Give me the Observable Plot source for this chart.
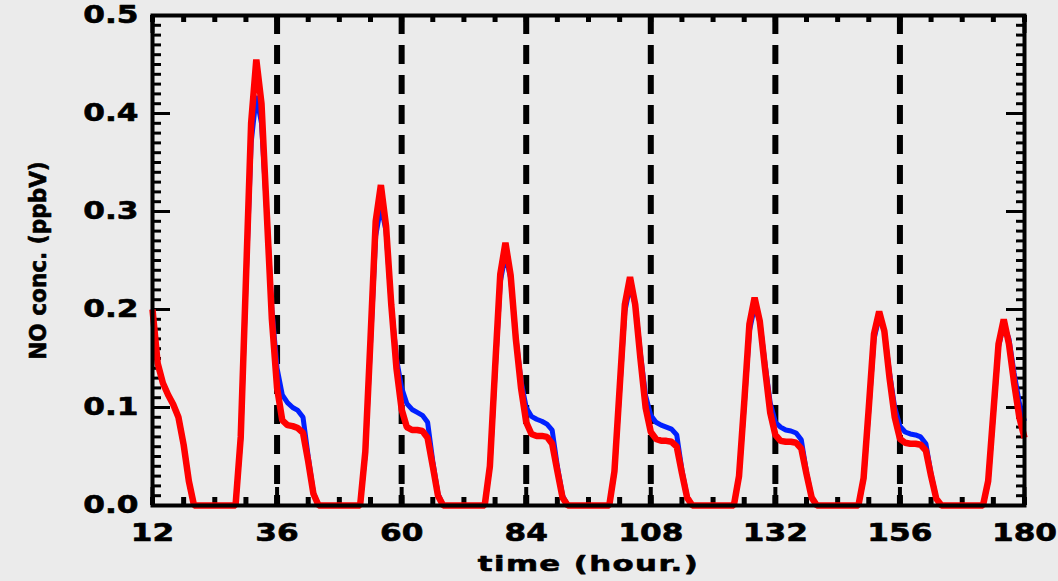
<!DOCTYPE html>
<html>
<head>
<meta charset="utf-8">
<script src="https://cdn.jsdelivr.net/npm/d3@7"></script>
<script src="https://cdn.jsdelivr.net/npm/@observablehq/plot@0.6"></script>
<style>
  html, body { margin: 0; padding: 0; background: #ebebeb; }
  #chart svg { display: block; }
</style>
</head>
<body>
<div id="chart"></div>
<script>
// hours of the simulation (hourly output)
const hours = d3.range(12, 181);

// NO concentration (ppbV), blue run
const blueNO = [
  0.200, 0.145, 0.125, 0.113, 0.103, 0.090, 0.062, 0.025, 0.000,
  0, 0, 0, 0, 0, 0, 0, 0,
  0.068, 0.225, 0.370, 0.418, 0.390, 0.300, 0.200, 0.140, 0.113, 0.105, 0.100, 0.097, 0.090, 0.050, 0.013, 0.000,
  0, 0, 0, 0, 0, 0, 0, 0,
  0.053, 0.165, 0.275, 0.305, 0.280, 0.205, 0.150, 0.120, 0.104, 0.098, 0.095, 0.092, 0.085, 0.045, 0.012, 0.000,
  0, 0, 0, 0, 0, 0, 0, 0,
  0.039, 0.135, 0.228, 0.256, 0.232, 0.172, 0.127, 0.100, 0.091, 0.088, 0.086, 0.083, 0.077, 0.040, 0.010, 0.000,
  0, 0, 0, 0, 0, 0, 0, 0,
  0.034, 0.117, 0.198, 0.224, 0.205, 0.155, 0.112, 0.092, 0.085, 0.082, 0.080, 0.078, 0.072, 0.036, 0.009, 0.000,
  0, 0, 0, 0, 0, 0, 0, 0,
  0.030, 0.102, 0.178, 0.203, 0.188, 0.145, 0.105, 0.085, 0.080, 0.077, 0.076, 0.074, 0.067, 0.034, 0.008, 0.000,
  0, 0, 0, 0, 0, 0, 0, 0,
  0.027, 0.097, 0.170, 0.192, 0.178, 0.135, 0.100, 0.081, 0.075, 0.073, 0.072, 0.070, 0.063, 0.032, 0.007, 0.000,
  0, 0, 0, 0, 0, 0, 0, 0,
  0.024, 0.093, 0.162, 0.185, 0.170, 0.135, 0.105, 0.086
];

// NO concentration (ppbV), red run
const redNO = [
  0.200, 0.145, 0.125, 0.113, 0.103, 0.090, 0.062, 0.025, 0.000,
  0, 0, 0, 0, 0, 0, 0, 0,
  0.070, 0.230, 0.390, 0.455, 0.410, 0.300, 0.190, 0.120, 0.087, 0.082, 0.081, 0.079, 0.074, 0.045, 0.012, 0.000,
  0, 0, 0, 0, 0, 0, 0, 0,
  0.055, 0.170, 0.290, 0.327, 0.285, 0.205, 0.140, 0.098, 0.080, 0.077, 0.077, 0.076, 0.069, 0.040, 0.010, 0.000,
  0, 0, 0, 0, 0, 0, 0, 0,
  0.040, 0.140, 0.236, 0.268, 0.235, 0.170, 0.120, 0.085, 0.073, 0.071, 0.071, 0.070, 0.063, 0.035, 0.008, 0.000,
  0, 0, 0, 0, 0, 0, 0, 0,
  0.035, 0.120, 0.205, 0.233, 0.205, 0.150, 0.100, 0.075, 0.068, 0.066, 0.066, 0.065, 0.060, 0.033, 0.008, 0.000,
  0, 0, 0, 0, 0, 0, 0, 0,
  0.030, 0.105, 0.185, 0.212, 0.188, 0.140, 0.095, 0.072, 0.066, 0.065, 0.065, 0.064, 0.058, 0.032, 0.008, 0.000,
  0, 0, 0, 0, 0, 0, 0, 0,
  0.028, 0.100, 0.175, 0.198, 0.178, 0.130, 0.090, 0.068, 0.064, 0.063, 0.063, 0.062, 0.056, 0.030, 0.007, 0.000,
  0, 0, 0, 0, 0, 0, 0, 0,
  0.025, 0.095, 0.165, 0.190, 0.165, 0.125, 0.090, 0.069
];

// day boundaries (dashed lines)
const dayLines = [36, 60, 84, 108, 132, 156];

// tick values and labels
const xTicks = [12, 36, 60, 84, 108, 132, 156, 180];
const xMinor = d3.range(12, 181, 6);
const yTicks = [0.0, 0.1, 0.2, 0.3, 0.4, 0.5];
const yMinor = d3.range(0, 0.5001, 0.01);
const xTitle = "time (hour.)";
const yTitle = "NO conc. (ppbV)";

const blueData = hours.map((t, i) => ({t, v: blueNO[i]}));
const redData = hours.map((t, i) => ({t, v: redNO[i]}));

const W = 1058, H = 581;
const mL = 152, mR = 34, mT = 15, mB = 76;
const iw = W - mL - mR, ih = H - mT - mB;

const font = "DejaVu Sans";
const txt = {fontWeight: "bold", fill: "black", stroke: "black", strokeWidth: 0.6, lineAnchor: "middle"};

const chart = Plot.plot({
  width: W,
  height: H,
  marginLeft: mL,
  marginRight: mR,
  marginTop: mT,
  marginBottom: mB,
  style: {background: "#ebebeb", fontFamily: font, color: "black"},
  x: {domain: [12, 180], axis: null},
  y: {domain: [0, 0.5], axis: null},
  marks: [
    // day boundaries
    Plot.ruleX(dayLines, {stroke: "black", strokeWidth: 6, strokeDasharray: "19,11"}),
    // inward ticks, left side
    Plot.ruleY(yMinor, {stroke: "black", strokeWidth: 3, insetRight: iw - 9}),
    Plot.ruleY(yTicks, {stroke: "black", strokeWidth: 3, insetRight: iw - 18}),
    // inward ticks, right side
    Plot.ruleY(yMinor, {stroke: "black", strokeWidth: 3, insetLeft: iw - 8}),
    Plot.ruleY(yTicks, {stroke: "black", strokeWidth: 3, insetLeft: iw - 18}),
    // inward ticks, bottom and top
    Plot.ruleX(xMinor, {stroke: "black", strokeWidth: 5, insetTop: ih - 8}),
    Plot.ruleX(xMinor, {stroke: "black", strokeWidth: 5, insetBottom: ih - 7}),
    Plot.ruleX(xTicks, {stroke: "black", strokeWidth: 4, insetTop: ih - 18}),
    Plot.ruleX(xTicks, {stroke: "black", strokeWidth: 4, insetBottom: ih - 18}),
    // data
    Plot.line(blueData, {x: "t", y: "v", stroke: "#0020ff", strokeWidth: 5, strokeLinejoin: "miter", strokeLinecap: "butt"}),
    Plot.line(redData, {x: "t", y: "v", stroke: "#ff0000", strokeWidth: 6.5, strokeLinejoin: "miter", strokeLinecap: "butt"}),
    Plot.frame({stroke: "black", strokeWidth: 4}),
    // tick labels
    Plot.text(xTicks, {...txt, x: d => d, frameAnchor: "bottom", dy: 28, text: d => String(d),
      fontSize: 24, textAnchor: "middle"}),
    Plot.text(yTicks, {...txt, y: d => d, frameAnchor: "left", dx: -14, text: d => d3.format(".1f")(d),
      fontSize: 24, textAnchor: "end"}),
    // axis titles
    Plot.text([xTitle], {...txt, frameAnchor: "bottom", dy: 58, text: d => d,
      fontSize: 22, textAnchor: "middle"}),
    Plot.text([yTitle], {...txt, frameAnchor: "left", dx: -114, rotate: -90, text: d => d,
      fontSize: 23, textAnchor: "middle"})
  ]
});

// widen / narrow the glyphs to mimic the lettering of the original
function stretch(sel, sx, ls) {
  chart.querySelectorAll(sel).forEach(g => {
    if (ls) g.setAttribute("letter-spacing", ls);
    g.querySelectorAll("text").forEach(t => {
      const tr = t.getAttribute("transform") || "";
      t.setAttribute("transform", tr + ` scale(${sx},1)`);
    });
  });
}
stretch('g[font-size="24"]', 1.3, null);
stretch('g[font-size="22"]', 1.4, "1");
stretch('g[font-size="23"]', 0.94, null);
document.getElementById("chart").appendChild(chart);
</script>
</body>
</html>
